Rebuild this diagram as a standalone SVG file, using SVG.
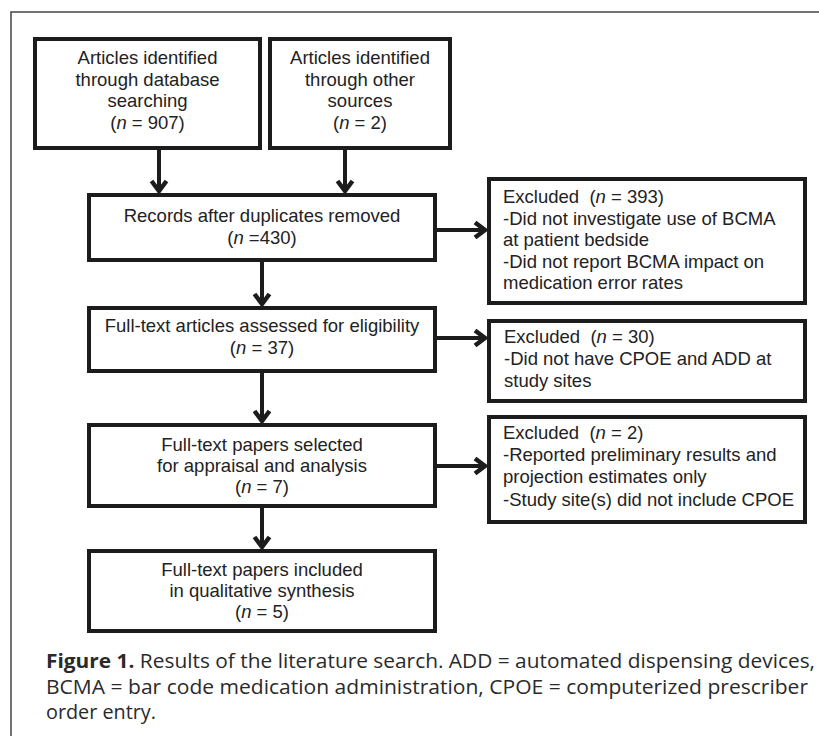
<svg xmlns="http://www.w3.org/2000/svg" width="819" height="736" viewBox="0 0 819 736">
<style>
.bx{fill:#fff;stroke:#1c1c1c;stroke-width:4;}
.t{font-family:"Liberation Sans",Arial,sans-serif;font-size:18.5px;fill:#222;white-space:pre;}
.c{text-anchor:middle;}
.ln{stroke:#1c1c1c;stroke-width:4;fill:none;}
.cap{font-family:"Open Sans","Noto Sans",sans-serif;font-size:20px;fill:#2a2a2a;white-space:pre;}
</style>
<defs>
<marker id="ah" markerUnits="userSpaceOnUse" markerWidth="24" markerHeight="24" viewBox="-12 -12 24 24" refX="0" refY="0" orient="auto" overflow="visible">
<path d="M-11,-7.5 L-1,0 L-11,7.5" fill="none" stroke="#1c1c1c" stroke-width="4.5" stroke-linejoin="miter"/>
</marker>
</defs>
<rect x="0" y="0" width="819" height="736" fill="#fff"/>
<g id="frame"><path d="M11,736 V12 H819" fill="none" stroke="#444" stroke-width="1.5"/></g>

<g id="connectors">
<line class="ln" x1="159" y1="150" x2="159" y2="192" marker-end="url(#ah)"/>
<line class="ln" x1="345" y1="150" x2="345" y2="192" marker-end="url(#ah)"/>
<line class="ln" x1="262" y1="262" x2="262" y2="305" marker-end="url(#ah)"/>
<line class="ln" x1="262" y1="373" x2="262" y2="422" marker-end="url(#ah)"/>
<line class="ln" x1="262" y1="508" x2="262" y2="548" marker-end="url(#ah)"/>
<line class="ln" x1="437" y1="230" x2="486" y2="230" marker-end="url(#ah)"/>
<line class="ln" x1="437" y1="338" x2="486" y2="338" marker-end="url(#ah)"/>
<line class="ln" x1="437" y1="466" x2="486" y2="466" marker-end="url(#ah)"/>
</g>

<g id="n1"><rect class="bx" x="35" y="39" width="225" height="109"/>
<text class="t c" x="147.5" y="64">Articles identified</text>
<text class="t c" x="147.5" y="85.5">through database</text>
<text class="t c" x="147.5" y="107">searching</text>
<text class="t c" x="147.5" y="128.5">(<tspan font-style="italic">n</tspan> = 907)</text></g>

<g id="n2"><rect class="bx" x="270" y="39" width="180" height="109"/>
<text class="t c" x="360" y="64">Articles identified</text>
<text class="t c" x="360" y="85.5">through other</text>
<text class="t c" x="360" y="107">sources</text>
<text class="t c" x="360" y="128.5">(<tspan font-style="italic">n</tspan> = 2)</text></g>

<g id="n3"><rect class="bx" x="89" y="195" width="346" height="65"/>
<text class="t c" x="262" y="222">Records after duplicates removed</text>
<text class="t c" x="262" y="243.5">(<tspan font-style="italic">n</tspan> =430)</text></g>

<g id="n4"><rect class="bx" x="89" y="308" width="346" height="63"/>
<text class="t c" x="262" y="332">Full-text articles assessed for eligibility</text>
<text class="t c" x="262" y="353.5">(<tspan font-style="italic">n</tspan> = 37)</text></g>

<g id="n5"><rect class="bx" x="89" y="425" width="346" height="81"/>
<text class="t c" x="262" y="451">Full-text papers selected</text>
<text class="t c" x="262" y="472">for appraisal and analysis</text>
<text class="t c" x="262" y="493">(<tspan font-style="italic">n</tspan> = 7)</text></g>

<g id="n6"><rect class="bx" x="89" y="551" width="346" height="80"/>
<text class="t c" x="262" y="576">Full-text papers included</text>
<text class="t c" x="262" y="597">in qualitative synthesis</text>
<text class="t c" x="262" y="618">(<tspan font-style="italic">n</tspan> = 5)</text></g>

<g id="e1"><rect class="bx" x="489" y="179" width="316" height="124"/>
<text class="t" x="503" y="203">Excluded  (<tspan font-style="italic">n</tspan> = 393)</text>
<text class="t" x="503" y="224.5">-Did not investigate use of BCMA</text>
<text class="t" x="503" y="246">at patient bedside</text>
<text class="t" x="503" y="267.5">-Did not report BCMA impact on</text>
<text class="t" x="503" y="289">medication error rates</text></g>

<g id="e2"><rect class="bx" x="489" y="321" width="316" height="80"/>
<text class="t" x="504" y="343">Excluded  (<tspan font-style="italic">n</tspan> = 30)</text>
<text class="t" x="504" y="365">-Did not have CPOE and ADD at</text>
<text class="t" x="504" y="387">study sites</text></g>

<g id="e3"><rect class="bx" x="489" y="417" width="316" height="105"/>
<text class="t" x="503" y="439">Excluded  (<tspan font-style="italic">n</tspan> = 2)</text>
<text class="t" x="503" y="461">-Reported preliminary results and</text>
<text class="t" x="503" y="483">projection estimates only</text>
<text class="t" x="503" y="505.5">-Study site(s) did not include CPOE</text></g>

<g id="caption">
<text class="cap" x="46" y="668" textLength="769" lengthAdjust="spacingAndGlyphs"><tspan font-weight="bold">Figure 1.</tspan> Results of the literature search. ADD = automated dispensing devices,</text>
<text class="cap" x="46" y="693.5" textLength="762" lengthAdjust="spacingAndGlyphs">BCMA = bar code medication administration, CPOE = computerized prescriber</text>
<text class="cap" x="46" y="719" textLength="110" lengthAdjust="spacingAndGlyphs">order entry.</text>
</g>
</svg>
